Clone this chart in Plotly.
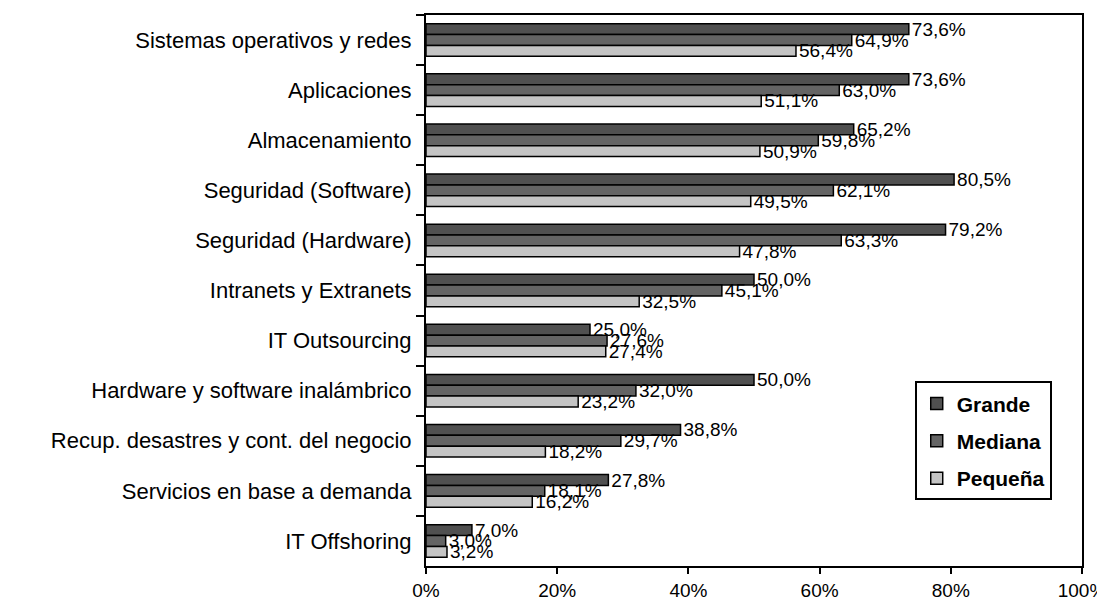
import plotly.graph_objects as go

categories = [
    "Sistemas operativos y redes",
    "Aplicaciones",
    "Almacenamiento",
    "Seguridad (Software)",
    "Seguridad (Hardware)",
    "Intranets y Extranets",
    "IT Outsourcing",
    "Hardware y software inalámbrico",
    "Recup. desastres y cont. del negocio",
    "Servicios en base a demanda",
    "IT Offshoring",
]
grande = [73.6, 73.6, 65.2, 80.5, 79.2, 50.0, 25.0, 50.0, 38.8, 27.8, 7.0]
mediana = [64.9, 63.0, 59.8, 62.1, 63.3, 45.1, 27.6, 32.0, 29.7, 18.1, 3.0]
pequena = [56.4, 51.1, 50.9, 49.5, 47.8, 32.5, 27.4, 23.2, 18.2, 16.2, 3.2]
x_ticks = [0, 20, 40, 60, 80, 100]
x_tick_labels = ["0%", "20%", "40%", "60%", "80%", "100%"]

series = [("Grande", grande, "#505050"), ("Mediana", mediana, "#646464"), ("Pequeña", pequena, "#c4c4c4")]

FONT = "Liberation Sans, Arial, sans-serif"
fig = go.Figure()
for name, vals, col in series:
    fig.add_trace(go.Bar(
        y=categories, x=vals, name=name, orientation="h",
        marker=dict(color=col, line=dict(color="black", width=1.5)),
        texttemplate="%{x:.1f}%", textposition="outside",
        textfont=dict(family=FONT, size=19, color="black"),
        constraintext="none", cliponaxis=False,
        legendgroup=name,
    ))

fig.update_layout(
    width=1105, height=603,
    margin=dict(l=418, r=31, t=5, b=45),
    paper_bgcolor="white", plot_bgcolor="white",
    barmode="group", bargap=0.35, bargroupgap=0,
    separators=", ",
    font=dict(family=FONT, size=22, color="black"),
    showlegend=True,
    legend=dict(
        x=0.745, y=0.335, xanchor="left", yanchor="top",
        bordercolor="black", borderwidth=2, bgcolor="white",
        font=dict(family=FONT, size=21, color="black", weight="bold"),
        tracegroupgap=7, traceorder="grouped", itemwidth=30,
    ),
)
fig.update_xaxes(
    range=[0, 100], tickvals=x_ticks, ticktext=x_tick_labels,
    showgrid=False, zeroline=False,
    showline=True, linecolor="black", linewidth=2, mirror=True,
    ticks="outside", ticklen=6, tickcolor="black", tickwidth=2,
    tickfont=dict(size=19), ticklabelstandoff=0,
)
fig.update_yaxes(
    autorange="reversed", categoryorder="array", categoryarray=categories,
    showgrid=False, zeroline=False,
    showline=True, linecolor="black", linewidth=2, mirror=True,
    ticks="outside", ticklen=8, tickcolor="black", tickwidth=2,
    tickson="boundaries", tickfont=dict(size=22), ticklabelstandoff=8,
)

fig.write_html("out.html")
